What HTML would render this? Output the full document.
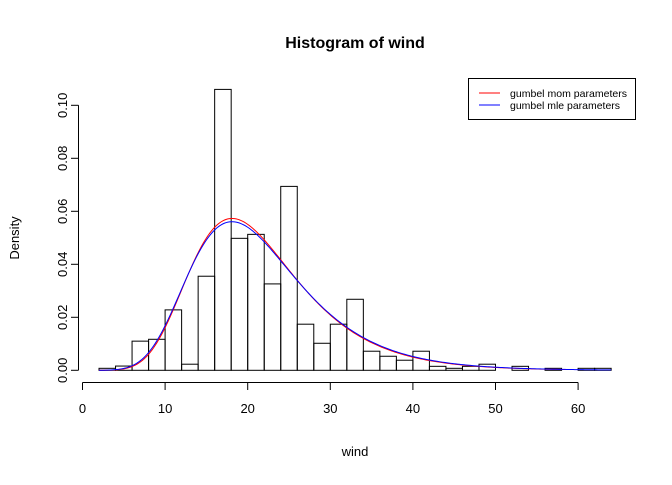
<!DOCTYPE html>
<html><head><meta charset="utf-8"><style>
body{margin:0;background:#fff}
svg text{font-family:"Liberation Sans",Arial,sans-serif}
</style></head><body>
<svg id="chart" width="672" height="480" xmlns="http://www.w3.org/2000/svg">
<rect width="672" height="480" fill="#fff"/>
<text x="355" y="48" text-anchor="middle" font-size="16" font-weight="bold">Histogram of wind</text>
<text x="355" y="456" text-anchor="middle" font-size="13">wind</text>
<text transform="translate(19,238) rotate(-90)" text-anchor="middle" font-size="13">Density</text>
<g id="bars"></g>
<g id="curves"></g>
<g id="axes"></g>
<g>
<rect x="468.5" y="78.5" width="167" height="41" fill="#fff" stroke="#000"/>
<line x1="479" y1="93" x2="500" y2="93" stroke="red"/>
<line x1="479" y1="105" x2="500" y2="105" stroke="blue"/>
<text x="510" y="97" font-size="10.5" textLength="117" lengthAdjust="spacingAndGlyphs">gumbel mom parameters</text>
<text x="510" y="109" font-size="10.5" textLength="110" lengthAdjust="spacingAndGlyphs">gumbel mle parameters</text>
</g>
</svg>
<script>
const binStarts=[2,4,6,8,10,12,14,16,18,20,22,24,26,28,30,32,34,36,38,40,42,44,46,48,50,52,54,56,58,60,62];
const densities=[0.00075,0.0016,0.011,0.0117,0.0228,0.0023,0.0355,0.106,0.0498,0.0513,0.0326,0.0694,0.0174,0.0102,0.0174,0.0268,0.0072,0.0053,0.0038,0.0072,0.0015,0.00075,0.0015,0.0023,0,0.0015,0,0.00075,0,0.00075,0.00075];
const binWidth=2;
const momParams=[18.1,6.42];
const mleParams=[18.1,6.56];
const xTicks=[0,10,20,30,40,50,60];
const yTicks=[0,0.02,0.04,0.06,0.08,0.10];
const yTickLabels=["0.00","0.02","0.04","0.06","0.08","0.10"];
const NS="http://www.w3.org/2000/svg";
const xs=v=>82.5+v*8.26, ys=v=>370.3-v*2650;
function mk(tag,attrs,parent){const e=document.createElementNS(NS,tag);for(const k in attrs)e.setAttribute(k,attrs[k]);parent.appendChild(e);return e;}
const bars=document.getElementById('bars');
binStarts.forEach((b,i)=>{
 const x0=xs(b),x1=xs(b+binWidth),y=ys(densities[i]);
 const r=mk('rect',{x:x0,y:y,width:x1-x0,height:ys(0)-y,fill:'none',stroke:'#000','stroke-width':1},bars);
 
 
});
function gumbel(x,p){const z=(x-p[0])/p[1];return Math.exp(-(z+Math.exp(-z)))/p[1];}
const curves=document.getElementById('curves');
function curve(p,a,b,color,name){
 let d='';for(let x=a;x<=b+1e-9;x+=0.2){d+=(d?'L':'M')+xs(x).toFixed(2)+','+ys(gumbel(x,p)).toFixed(2);}
 const e=mk('path',{d:d,fill:'none',stroke:color,'stroke-width':1},curves);
 
 
}
curve(momParams,2,58.7,'red','gumbel-mom-curve');
curve(mleParams,2,64,'blue','gumbel-mle-curve');
const axes=document.getElementById('axes');
const xa=mk('g',{},axes);


mk('line',{x1:xs(xTicks[0]),x2:xs(xTicks[xTicks.length-1]),y1:382.5,y2:382.5,stroke:'#000'},xa);
xTicks.forEach(t=>{mk('line',{x1:xs(t),x2:xs(t),y1:382.5,y2:390,stroke:'#000'},xa);
 const tx=mk('text',{x:xs(t),y:413,'text-anchor':'middle','font-size':13},xa);tx.textContent=t;
 
 });
const ya=mk('g',{},axes);


mk('line',{x1:78.5,x2:78.5,y1:ys(yTicks[0]),y2:ys(yTicks[yTicks.length-1]),stroke:'#000'},ya);
yTicks.forEach((t,i)=>{mk('line',{x1:71,x2:78.5,y1:ys(t),y2:ys(t),stroke:'#000'},ya);
 const tx=mk('text',{transform:`translate(67,${ys(t)}) rotate(-90)`,'text-anchor':'middle','font-size':13},ya);tx.textContent=yTickLabels[i];
 
 });
</script>
</body></html>
